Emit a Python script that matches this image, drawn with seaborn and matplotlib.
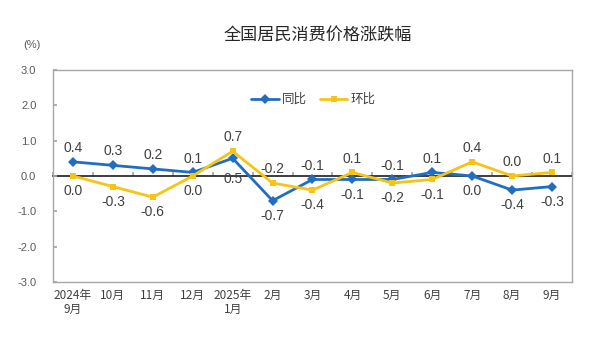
import matplotlib
matplotlib.use("Agg")
import matplotlib.pyplot as plt
import seaborn as sns
import pandas as pd
import numpy as np

months = ["2024年\n9月", "10月", "11月", "12月", "2025年\n1月", "2月", "3月",
          "4月", "5月", "6月", "7月", "8月", "9月"]
yoy = [0.4, 0.3, 0.2, 0.1, 0.5, -0.7, -0.1, -0.1, -0.1, 0.1, 0.0, -0.4, -0.3]
mom = [0.0, -0.3, -0.6, 0.0, 0.7, -0.2, -0.4, 0.1, -0.2, -0.1, 0.4, 0.0, 0.1]
series_names = ["同比", "环比"]
y_ticks = [3.0, 2.0, 1.0, 0.0, -1.0, -2.0, -3.0]

sns.set_theme(style="white")
plt.rcParams["font.family"] = ["Liberation Sans", "Noto Sans CJK SC", "DejaVu Sans"]
cjk = ["Noto Sans CJK SC", "DejaVu Sans"]

idx = np.arange(len(months))
df = pd.DataFrame({
    "月份": np.concatenate([idx, idx]),
    "涨跌幅": yoy + mom,
    "指标": [series_names[0]] * len(idx) + [series_names[1]] * len(idx),
})

blue = "#1F6EC4"
gold = "#F6C514"
palette = {series_names[0]: blue, series_names[1]: gold}

fig = plt.figure(figsize=(6.0, 3.43), dpi=100)
ax = fig.add_axes([0.0883, 0.178, 0.865, 0.618])

sns.lineplot(data=df, x="月份", y="涨跌幅", hue="指标", style="指标",
             markers={series_names[0]: "D", series_names[1]: "s"},
             dashes=False, palette=palette, linewidth=2.0,
             markersize=5, markeredgewidth=0, ax=ax)

ax.set_xlim(-0.5, len(months) - 0.5)
ax.set_ylim(-3.0, 3.0)
ax.set_xlabel("")
ax.set_ylabel("")

ax.set_yticks(y_ticks)
ax.set_yticklabels([f"{v:.1f}" for v in y_ticks], fontsize=8, color="#595959")
ax.tick_params(axis="y", direction="in", length=3, color="#A6A6A6", pad=12, left=True)

ax.set_xticks(idx)
ax.set_xticklabels(months, fontsize=8.5, color="#404040", family=cjk, linespacing=1.1)
ax.tick_params(axis="x", length=0, pad=5)

for sp in ax.spines.values():
    sp.set_color("#A6A6A6")
    sp.set_linewidth(1.0)

# zero line with category boundary ticks
zero_axis = ax.secondary_xaxis(0.5)
zero_axis.set_xticks(np.arange(len(months) + 1) - 0.5)
zero_axis.tick_params(axis="x", direction="out", length=3, color="#A6A6A6",
                      labelbottom=False, labeltop=False)
zero_axis.spines["bottom"].set_color("#A6A6A6")
zero_axis.spines["bottom"].set_linewidth(1.0)

# value labels: the higher series labelled above, the lower below
for i in idx:
    a, b = yoy[i], mom[i]
    for val, other, is_yoy in ((a, b, True), (b, a, False)):
        above = val > other or (val == other and is_yoy)
        off = 10 if above else -11
        if not above and is_yoy and val > 0:
            off = -15
        ax.annotate(f"{val:.1f}", (i, val), xytext=(0, off), textcoords="offset points",
                    ha="center", va="center", fontsize=10, color="#404040")

leg = ax.legend(loc="center", bbox_to_anchor=(0.502, 0.86), ncol=2, frameon=False,
                handlelength=2.2, columnspacing=1.0, handletextpad=0.3,
                prop={"family": cjk, "size": 9})
for t in leg.get_texts():
    t.set_color("#404040")

fig.text(0.529, 0.897, "全国居民消费价格涨跌幅", ha="center", va="center",
         fontsize=12.3, color="#262626", family=cjk, weight="medium")
fig.text(0.053, 0.868, "(%)", ha="center", va="center", fontsize=8, color="#595959")

fig.savefig("out.png", dpi=100, facecolor="white")
